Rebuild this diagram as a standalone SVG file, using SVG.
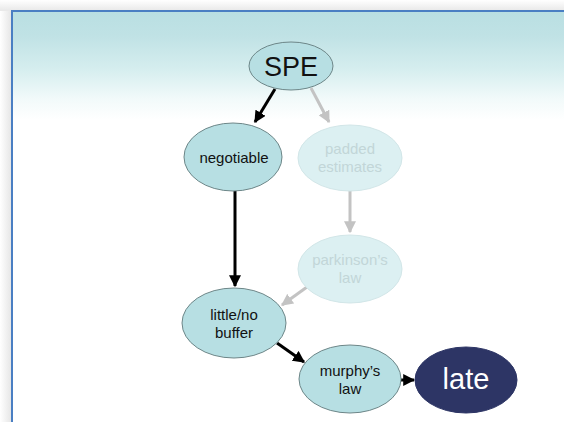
<svg xmlns="http://www.w3.org/2000/svg" width="564" height="422" viewBox="0 0 564 422">
  <defs>
    <linearGradient id="panelFill" x1="0" y1="11" x2="0" y2="431" gradientUnits="userSpaceOnUse">
      <stop offset="0" stop-color="#b9dfe2"/>
      <stop offset="0.06" stop-color="#c0e2e5"/>
      <stop offset="0.14" stop-color="#d6eeef"/>
      <stop offset="0.21" stop-color="#f2fafa"/>
      <stop offset="0.26" stop-color="#ffffff"/>
      <stop offset="1" stop-color="#ffffff"/>
    </linearGradient>
    <linearGradient id="shadowLeft" x1="0" y1="0" x2="1" y2="0">
      <stop offset="0" stop-color="#ffffff"/>
      <stop offset="1" stop-color="#e4e4e4"/>
    </linearGradient>
    <linearGradient id="shadowTop" x1="0" y1="0" x2="0" y2="1">
      <stop offset="0" stop-color="#ffffff"/>
      <stop offset="1" stop-color="#e8e8e8"/>
    </linearGradient>
    <marker id="headDark" viewBox="0 0 10 10" refX="9" refY="5" markerWidth="4" markerHeight="4" orient="auto" markerUnits="strokeWidth">
      <path d="M0,0 L10,5 L0,10 z" fill="#000000"/>
    </marker>
    <marker id="headLight" viewBox="0 0 10 10" refX="9" refY="5" markerWidth="4" markerHeight="4" orient="auto" markerUnits="strokeWidth">
      <path d="M0,0 L10,5 L0,10 z" fill="#c3c3c3"/>
    </marker>
  </defs>
  <style>
    .node { fill: #b7dfe3; stroke: #6d8688; stroke-width: 1; }
    .faded { fill: #dcf0f2; stroke: #d2e6e8; stroke-width: 1; }
    .dark { fill: #2d3565; stroke: #2d3565; stroke-width: 1; }
    .label { font-family: "Liberation Sans", Arial, sans-serif; font-size: 15px; fill: #111111; text-anchor: middle; }
    .fadedLabel { font-family: "Liberation Sans", Arial, sans-serif; font-size: 15px; fill: #c2d6d8; text-anchor: middle; }
    .edge { fill: none; stroke: #000000; stroke-width: 3; marker-end: url(#headDark); }
    .edgeLight { fill: none; stroke: #c3c3c3; stroke-width: 3; marker-end: url(#headLight); }
  </style>

  <!-- page backdrop and framed panel -->
  <rect x="0" y="0" width="564" height="422" fill="#ffffff"/>
  <rect x="0" y="0" width="12" height="422" fill="url(#shadowLeft)"/>
  <rect x="0" y="0" width="564" height="11" fill="url(#shadowTop)"/>
  <rect x="12" y="11" width="560" height="420" fill="url(#panelFill)" stroke="#4a7fc3" stroke-width="2"/>

  <!-- connectors -->
  <g id="connectors">
    <line class="edge" x1="275" y1="89" x2="255" y2="122"/>
    <line class="edgeLight" x1="311" y1="88" x2="329" y2="122"/>
    <line class="edge" x1="235" y1="191" x2="235" y2="286"/>
    <line class="edgeLight" x1="350" y1="190" x2="350" y2="232"/>
    <line class="edgeLight" x1="307" y1="287" x2="282" y2="305"/>
    <line class="edge" x1="277" y1="343" x2="304" y2="362"/>
    <line class="edge" x1="401" y1="380" x2="414" y2="380"/>
  </g>

  <g id="spe">
    <ellipse class="node" cx="291" cy="66" rx="42" ry="24"/>
    <text class="label" x="291" y="76" style="font-size:27px">SPE</text>
  </g>

  <g id="negotiable">
    <ellipse class="node" cx="233" cy="157" rx="49" ry="34"/>
    <text class="label" x="234" y="163">negotiable</text>
  </g>

  <g id="padded-estimates">
    <ellipse class="faded" cx="350" cy="158" rx="52" ry="33"/>
    <text class="fadedLabel" x="350" y="154">padded</text>
    <text class="fadedLabel" x="350" y="172">estimates</text>
  </g>

  <g id="parkinsons-law">
    <ellipse class="faded" cx="350" cy="269" rx="52" ry="34"/>
    <text class="fadedLabel" x="350" y="265">parkinson’s</text>
    <text class="fadedLabel" x="350" y="283">law</text>
  </g>

  <g id="little-no-buffer">
    <ellipse class="node" cx="234" cy="323" rx="52" ry="35"/>
    <text class="label" x="234" y="320">little/no</text>
    <text class="label" x="234" y="338">buffer</text>
  </g>

  <g id="murphys-law">
    <ellipse class="node" cx="350" cy="379" rx="51" ry="34"/>
    <text class="label" x="350" y="376">murphy’s</text>
    <text class="label" x="350" y="394">law</text>
  </g>

  <g id="late">
    <ellipse class="dark" cx="466" cy="380" rx="51" ry="33"/>
    <text class="label" x="466" y="389" style="font-size:29px;fill:#ffffff">late</text>
  </g>
</svg>
